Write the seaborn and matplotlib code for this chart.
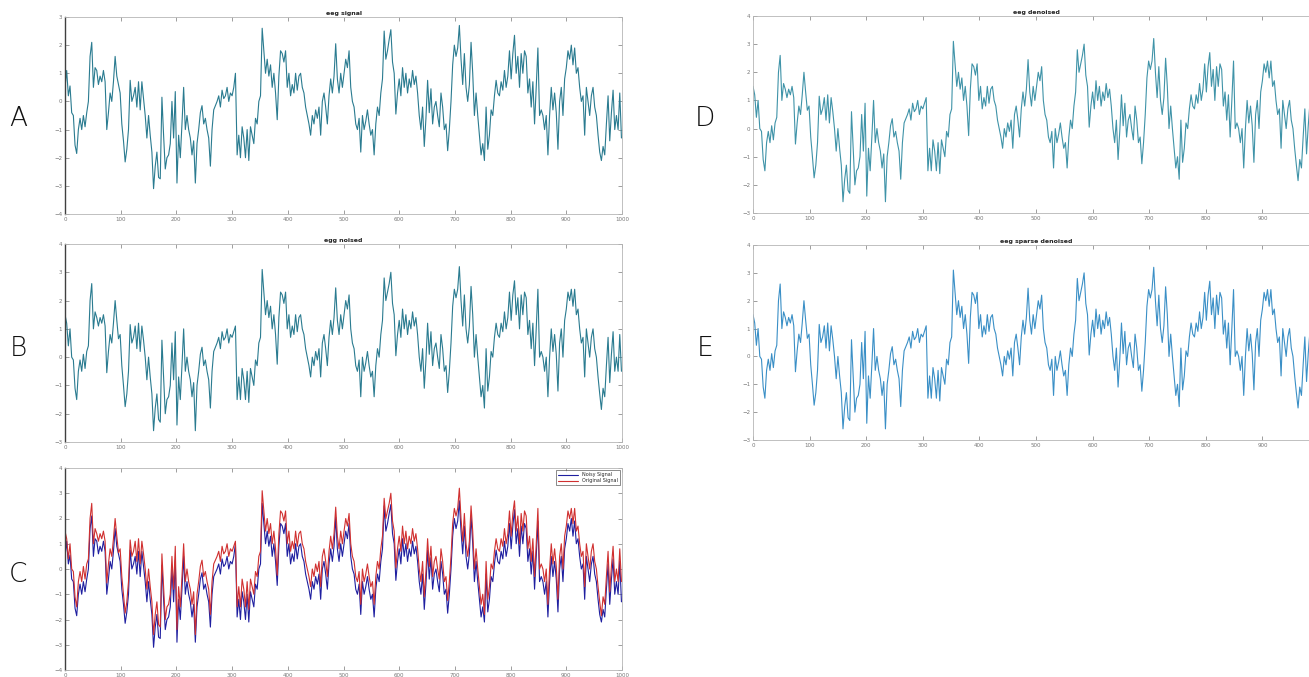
import numpy as np
import matplotlib
matplotlib.use("Agg")
import matplotlib.pyplot as plt
import seaborn as sns

# ---- data (one value every 3 samples, 0..999) ----
eeg_signal = [
    0.5, 1.1, 0.2, 0.55, -0.4, -0.5, -1.55, -1.85, -1.0, -0.6,
    -1.0, -0.5, -0.9, -0.4, 0.0, 1.6, 2.1, 0.5, 1.2, 1.1,
    0.6, 0.9, 0.7, 1.1, 0.7, -1.0, -0.4, 0.3, 0.0, 0.7,
    1.6, 0.9, 0.6, 0.3, -0.8, -1.4, -2.15, -1.7, -1.0, 0.75,
    0.0, 0.2, 0.5, -0.2, 0.7, -0.3, 0.7, 0.1, -0.5, -1.3,
    -0.5, -1.2, -1.8, -3.1, -2.3, -1.8, -2.7, -2.75, 0.15, -1.2,
    -2.4, -2.0, -1.9, -1.5, 0.0, -1.3, 0.35, -2.9, -1.2, -2.0,
    -0.8, 0.5, -1.0, -0.5, -1.0, -1.3, -1.9, -1.4, -2.9, -1.5,
    -1.0, -0.4, -0.15, -0.8, -0.6, -1.0, -1.3, -2.3, -1.0, -0.3,
    -0.15, 0.0, 0.2, -0.2, 0.4, 0.1, 0.2, 0.5, 0.0, 0.3,
    0.2, 0.5, 1.0, -1.9, -1.2, -2.0, -0.9, -1.3, -2.0, -1.0,
    -2.1, -0.9, -1.2, -1.5, -0.6, -0.8, 0.0, 0.2, 2.6, 1.8,
    1.0, 1.5, 0.9, 1.3, 0.5, 1.0, 0.3, -0.65, 0.9, 1.8,
    1.7, 1.4, 1.8, 0.5, 1.0, 0.2, 0.6, 0.3, 1.0, 0.4,
    0.9, 1.0, 0.5, 0.3, -0.2, -0.5, -0.8, -1.2, -0.5, -0.8,
    -0.3, -0.6, -0.2, -1.2, 0.0, 0.3, -0.2, -0.8, 0.2, 0.8,
    0.3, 0.9, 2.05, 0.8, 0.3, 1.0, 0.5, 1.0, 1.5, 1.2,
    1.8, 0.5, 0.0, -0.2, -0.8, -1.0, -0.6, -1.8, -0.5, -1.0,
    -0.7, -0.3, -0.8, -1.2, -1.0, -1.9, -0.8, -0.2, -0.5, 0.3,
    0.8, 2.5, 1.5, 1.8, 2.2, 2.55, 1.4, 1.0, -0.45, 0.3,
    0.8, 0.2, 1.2, 0.5, 1.0, 0.3, 0.8, 0.5, 1.1, 0.6,
    0.9, 0.3, -0.5, -1.0, -0.2, -1.6, -0.6, 0.75, -0.4, 0.45,
    -0.8, -0.2, 0.0, -0.5, -0.9, 0.3, -0.2, -1.0, -0.8, -1.75,
    -1.0, 0.0, 1.3, 2.0, 1.6, 1.9, 2.7, 1.5, 0.6, 1.7,
    0.5, 0.0, 0.6, 2.1, 1.0, -0.5, 0.3, -0.5, -1.2, -1.9,
    -1.5, -2.1, -0.2, -1.7, -1.2, -0.3, -0.5, 0.2, 0.75, 0.3,
    0.2, 0.7, 0.4, 1.1, 0.5, 0.9, 1.8, 0.8, 1.7, 2.35,
    1.0, 1.6, 0.5, 1.7, 1.0, 1.8, 1.6, 0.3, 0.8, -0.2,
    0.7, -0.8, 0.5, 1.9, -0.5, -0.3, -0.5, -1.0, -0.5, -1.9,
    -0.5, 0.5, -0.3, 0.3, -0.4, -1.7, 0.0, 0.5, -0.5, 0.8,
    1.2, 1.8, 1.5, 2.0, 1.3, 1.9, 1.0, 1.2, 0.5, 0.0,
    0.2, -1.2, 0.5, 0.0, -0.5, 0.2, 0.5, -0.2, -0.5, -1.2,
    -1.8, -2.1, -1.6, -1.9, -0.8, 0.2, -1.4, -0.4, 0.4, -1.0,
    -0.5, -1.0, 0.3, -1.3,
]

eeg_noised = [
    1.5, 1.2, 0.4, 1.0, 0.0, -0.1, -1.1, -1.5, -0.5, -0.1,
    -0.5, 0.1, -0.4, 0.2, 0.4, 2.0, 2.6, 1.0, 1.6, 1.4,
    1.1, 1.4, 1.2, 1.5, 1.1, -0.55, 0.2, 0.8, 0.5, 1.2,
    2.0, 1.3, 0.65, 0.8, -0.3, -1.0, -1.75, -1.3, -0.5, 1.15,
    0.5, 0.7, 1.1, 0.3, 1.2, 0.2, 1.1, 0.6, 0.0, -0.8,
    0.0, -0.7, -1.3, -2.6, -1.8, -1.3, -2.2, -2.3, 0.6, -0.7,
    -2.0, -1.5, -1.4, -1.0, 0.5, -0.8, 0.9, -2.4, -0.7, -1.5,
    -0.3, 1.0, -0.5, 0.0, -0.5, -0.8, -1.4, -0.9, -2.6, -1.0,
    -0.5, 0.1, 0.35, -0.3, -0.1, -0.5, -0.8, -1.8, -0.5, 0.2,
    0.35, 0.5, 0.7, 0.3, 0.9, 0.6, 0.7, 1.0, 0.5, 0.8,
    0.7, 0.9, 1.1, -1.5, -0.7, -1.5, -0.4, -0.8, -1.5, -0.5,
    -1.6, -0.4, -0.7, -1.0, -0.1, -0.3, 0.5, 0.7, 3.1, 2.3,
    1.5, 2.0, 1.4, 1.8, 1.0, 1.5, 0.8, -0.25, 1.4, 2.3,
    2.2, 1.9, 2.3, 1.0, 1.5, 0.7, 1.1, 0.8, 1.5, 0.9,
    1.4, 1.5, 1.0, 0.8, 0.3, 0.0, -0.3, -0.7, 0.0, -0.3,
    0.2, -0.1, 0.3, -0.7, 0.5, 0.8, 0.3, -0.3, 0.7, 1.3,
    0.8, 1.4, 2.45, 1.3, 0.8, 1.5, 1.0, 1.5, 2.0, 1.7,
    2.2, 1.0, 0.5, 0.3, -0.3, -0.5, -0.1, -1.4, 0.0, -0.5,
    -0.2, 0.2, -0.3, -0.7, -0.5, -1.4, -0.3, 0.3, 0.0, 0.8,
    1.3, 2.8, 2.0, 2.3, 2.6, 3.0, 1.9, 1.5, 0.05, 0.8,
    1.3, 0.7, 1.7, 1.0, 1.5, 0.8, 1.3, 1.0, 1.6, 1.1,
    1.4, 0.8, 0.0, -0.5, 0.3, -1.1, -0.1, 1.2, 0.1, 0.9,
    -0.3, 0.3, 0.5, 0.0, -0.4, 0.8, 0.3, -0.5, -0.3, -1.25,
    -0.5, 0.5, 1.8, 2.4, 2.1, 2.4, 3.2, 2.0, 1.1, 2.2,
    1.0, 0.5, 1.1, 2.5, 1.5, 0.0, 0.8, 0.0, -0.7, -1.4,
    -1.0, -1.8, 0.3, -1.2, -0.7, 0.2, 0.0, 0.7, 1.2, 0.8,
    0.7, 1.2, 0.9, 1.6, 1.0, 1.4, 2.3, 1.3, 2.2, 2.7,
    1.5, 2.1, 1.0, 2.2, 1.5, 2.3, 2.1, 0.8, 1.3, 0.3,
    1.2, -0.3, 1.0, 2.4, 0.0, 0.2, 0.0, -0.5, 0.0, -1.4,
    0.0, 1.0, 0.2, 0.8, 0.1, -1.2, 0.5, 1.0, 0.0, 1.3,
    1.7, 2.3, 2.0, 2.4, 1.8, 2.4, 1.5, 1.7, 1.0, 0.5,
    0.7, -0.7, 1.0, 0.5, 0.0, 0.7, 1.0, 0.3, 0.0, -0.7,
    -1.3, -1.85, -1.1, -1.4, -0.3, 0.7, -0.9, 0.1, 0.9, -0.5,
    0.0, -0.5, 0.8, -0.5,
]

# D and E read the same as B at this resolution
eeg_denoised = eeg_noised
eeg_sparse = eeg_noised

samples = np.arange(0, 1000, 3)
assert len(eeg_signal) == len(samples) == len(eeg_noised)

legend_labels = ["Noisy Signal", "Original Signal"]

# ---- style ----
sns.set_theme(style="white")
plt.rcParams["font.family"] = ["DejaVu Sans"]

W, H = 1309, 677
fig = plt.figure(figsize=(W / 100, H / 100), dpi=100)


def make_ax(left, top, right, bottom):
	return fig.add_axes([left / W, 1 - bottom / H, (right - left) / W, (bottom - top) / H])


def style_ax(ax, ylo, yhi, title=None, dark_left=True):
	ax.set_xlim(0, 1000)
	ax.set_ylim(ylo, yhi)
	ax.set_xticks(range(0, 1001, 100))
	ax.set_yticks(range(ylo, yhi + 1))
	ax.tick_params(direction="in", length=3, width=0.5, colors="#777777",
				   labelsize=4, pad=2, top=True, right=True, left=True, bottom=True)
	for s in ax.spines.values():
		s.set_color("#b5b5b5")
		s.set_linewidth(0.6)
	if dark_left:
		ax.spines["left"].set_color("#404040")
		ax.spines["left"].set_linewidth(1.0)
	ax.set_xlabel("")
	ax.set_ylabel("")
	if title:
		ax.set_title(title, fontsize=4.5, fontweight="bold", pad=1.5, color="#222222")


# A
axA = make_ax(65, 17, 622, 214)
sns.lineplot(x=samples, y=eeg_signal, ax=axA, color="#2a7b90", linewidth=0.8)
style_ax(axA, -4, 3, "eeg signal")

# B
axB = make_ax(65, 244, 622, 442)
sns.lineplot(x=samples, y=eeg_noised, ax=axB, color="#2a7b90", linewidth=0.8)
style_ax(axB, -3, 4, "egg noised")

# C
axC = make_ax(65, 468, 622, 670)
sns.lineplot(x=samples, y=eeg_signal, ax=axC, color="#1f1fa0", linewidth=0.8, label=legend_labels[0])
sns.lineplot(x=samples, y=eeg_noised, ax=axC, color="#d03030", linewidth=0.8, label=legend_labels[1])
style_ax(axC, -4, 4)
leg = axC.legend(loc="upper right", fontsize=3.5, frameon=True, fancybox=False,
				 handlelength=4, borderpad=0.4, labelspacing=0.2)
leg.get_frame().set_edgecolor("#333333")
leg.get_frame().set_linewidth(0.5)

# D
axD = make_ax(753, 16, 1319, 213)
sns.lineplot(x=samples, y=eeg_denoised, ax=axD, color="#3f93a8", linewidth=0.8)
style_ax(axD, -3, 4, "eeg denoised", dark_left=False)

# E
axE = make_ax(753, 245, 1319, 440)
sns.lineplot(x=samples, y=eeg_sparse, ax=axE, color="#3a8fc6", linewidth=0.8)
style_ax(axE, -3, 4, "eeg sparse denoised", dark_left=False)

# panel letters
for letter, (px, py) in zip("ABCDE", [(18, 118), (18, 348), (18, 575), (705, 118), (705, 348)]):
	fig.text(px / W, 1 - py / H, letter, fontsize=19, fontweight="light",
			 ha="center", va="center", color="#111111")

fig.savefig("out.png", dpi=100)
